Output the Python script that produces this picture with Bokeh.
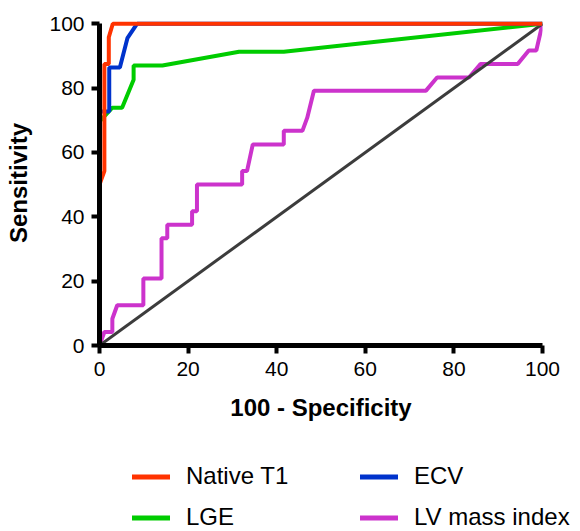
from bokeh.plotting import figure
from bokeh.layouts import column
from bokeh.models import Range1d, FixedTicker, Legend, LegendItem
from bokeh.embed import file_html
from bokeh.resources import INLINE

# ---- data ----
tick_values = [0, 20, 40, 60, 80, 100]

native_t1_x = [0, 0, 1.1, 1.1, 2.1, 2.1, 3.0, 100]
native_t1_y = [0, 50.0, 54.2, 87.5, 87.5, 95.8, 100, 100]

ecv_x = [0, 0, 2.2, 2.2, 4.6, 6.3, 8.5, 100]
ecv_y = [0, 72.7, 72.7, 86.4, 86.4, 95.5, 100, 100]

lge_x = [0, 0, 2.9, 5.1, 7.7, 7.7, 14.2, 31.5, 41.6, 100]
lge_y = [0, 69.6, 73.9, 73.9, 82.6, 87.0, 87.0, 91.3, 91.3, 100]

lvmi_x = [0, 1.1, 2.9, 2.9, 4.0, 9.9, 9.9, 14.0, 14.0, 15.3, 15.3, 20.9, 20.9,
          22.0, 22.0, 32.2, 32.2, 33.3, 34.6, 41.6, 41.6, 45.8, 46.9, 48.4,
          73.7, 76.2, 83.4, 86.0, 94.4, 96.9, 98.6, 100]
lvmi_y = [0, 4.2, 4.2, 8.3, 12.5, 12.5, 20.8, 20.8, 33.3, 33.3, 37.5, 37.5, 41.7,
          41.7, 50.0, 50.0, 54.2, 54.2, 62.5, 62.5, 66.7, 66.7, 70.8, 79.2,
          79.2, 83.3, 83.3, 87.5, 87.5, 91.7, 91.7, 100]

ref_x = [0, 100]
ref_y = [0, 100]

labels = ["Native T1", "ECV", "LGE", "LV mass index"]
series = {"Native T1": (native_t1_x, native_t1_y), "ECV": (ecv_x, ecv_y),
          "LGE": (lge_x, lge_y), "LV mass index": (lvmi_x, lvmi_y)}
colors = {"Native T1": "#FF3300", "ECV": "#0033CC", "LGE": "#00CC00",
          "LV mass index": "#CC33CC"}

FONT = "Liberation Sans"

# ---------------- main ROC plot ----------------
p = figure(width=580, height=440, frame_width=443, frame_height=325,
           x_range=Range1d(0, 100), y_range=Range1d(0, 101),
           min_border_left=99, min_border_top=20, min_border_right=38,
           min_border_bottom=95,
           output_backend="svg", toolbar_location=None)
p.outline_line_color = None
p.xgrid.visible = False
p.ygrid.visible = False
p.background_fill_color = "white"
p.border_fill_color = "white"

p.line(lvmi_x, lvmi_y, line_color=colors["LV mass index"], line_width=4)
p.line(ref_x, ref_y, line_color="#3C3C3C", line_width=3)
p.line(lge_x, lge_y, line_color=colors["LGE"], line_width=4)
p.line(ecv_x, ecv_y, line_color=colors["ECV"], line_width=4)
p.line(native_t1_x, native_t1_y, line_color=colors["Native T1"], line_width=4)

for ax in (p.xaxis[0], p.yaxis[0]):
    ax.ticker = FixedTicker(ticks=tick_values)
    ax.bounds = (0, 100)
    ax.axis_line_width = 5
    ax.axis_line_color = "black"
    ax.major_tick_line_width = 4
    ax.major_tick_line_color = "black"
    ax.major_tick_out = 8
    ax.major_tick_in = 0
    ax.minor_tick_out = 0
    ax.minor_tick_in = 0
    ax.minor_tick_line_color = None
    ax.major_label_text_font = FONT
    ax.major_label_text_font_size = "21px"
    ax.major_label_text_color = "black"
    ax.axis_label_text_font = FONT
    ax.axis_label_text_font_size = "24px"
    ax.axis_label_text_font_style = "bold"
    ax.axis_label_text_color = "black"

p.xaxis.axis_label = "100 - Specificity"
p.yaxis.axis_label = "Sensitivity"
p.xaxis.major_label_standoff = 8
p.xaxis.axis_label_standoff = 15
p.yaxis.major_label_standoff = 7
p.yaxis.axis_label_standoff = 14

# ---------------- legend strip below ----------------
# The series are drawn here too, but this strip's ranges keep them out of view;
# they only supply the legend swatches.
lg = figure(width=580, height=91, min_border=0,
            x_range=Range1d(1000, 1001), y_range=Range1d(1000, 1001),
            x_axis_type=None, y_axis_type=None,
            output_backend="svg", toolbar_location=None)
lg.frame_align = False
lg.outline_line_color = None
lg.xgrid.visible = False
lg.ygrid.visible = False
lg.background_fill_color = "white"
lg.border_fill_color = "white"

items = []
for lab in labels:
    sx, sy = series[lab]
    r = lg.line(sx, sy, line_color=colors[lab], line_width=5, line_cap="round")
    items.append(LegendItem(label=lab, renderers=[r]))

legend = Legend(items=items, orientation="horizontal", ncols=2)
legend.location = (132, 0)
legend.margin = 0
legend.padding = 0
legend.border_line_color = None
legend.background_fill_alpha = 0
legend.label_text_font = FONT
legend.label_text_font_size = "24px"
legend.label_text_color = "black"
legend.glyph_width = 38
legend.glyph_height = 27
legend.label_height = 27
legend.label_width = 161
legend.label_standoff = 16
legend.spacing = 13
lg.add_layout(legend, "center")

layout = column(p, lg, spacing=0)

open("out.html", "w").write(file_html(layout, INLINE))
